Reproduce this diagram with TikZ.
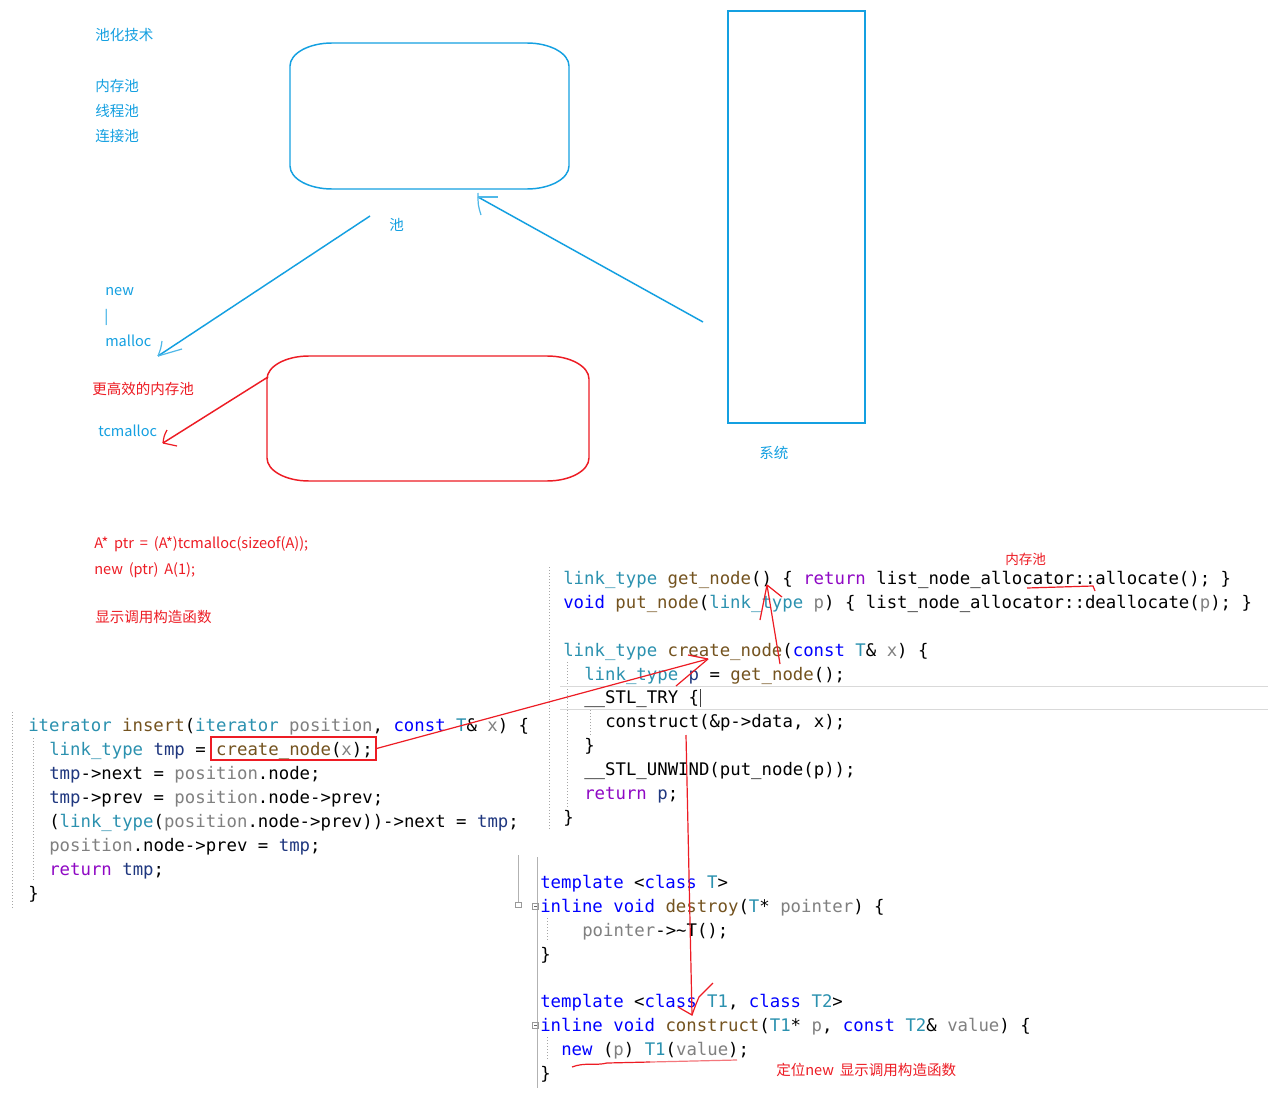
\documentclass[tikz,border=0pt]{standalone}
\usepackage{fontspec}
\newfontfamily\cjk{Noto Sans CJK SC}[WordSpace=1.8]
\newfontfamily\codefont{DejaVu Sans Mono}
\definecolor{pblue}{RGB}{20,160,225}
\definecolor{pred}{RGB}{237,28,36}
\definecolor{ctyc}{RGB}{43,145,175}
\definecolor{cfnc}{RGB}{116,83,31}
\definecolor{ckwc}{RGB}{0,0,255}
\definecolor{cpac}{RGB}{128,128,128}
\definecolor{cctc}{RGB}{143,8,196}
\definecolor{cloc}{RGB}{31,55,127}
\newcommand\tkTy[1]{\textcolor{ctyc}{#1}}
\newcommand\tkFn[1]{\textcolor{cfnc}{#1}}
\newcommand\tkKw[1]{\textcolor{ckwc}{#1}}
\newcommand\tkPa[1]{\textcolor{cpac}{#1}}
\newcommand\tkCt[1]{\textcolor{cctc}{#1}}
\newcommand\tkLo[1]{\textcolor{cloc}{#1}}
\begin{document}
\begin{tikzpicture}[x=0.75pt,y=-0.75pt,
  lbl/.style={inner sep=0pt, anchor=base west, font=\cjk\fontsize{10.9}{13}\selectfont},
  blbl/.style={lbl, text=pblue},
  rlbl/.style={lbl, text=pred},
  code/.style={inner sep=0pt, anchor=base west, font=\codefont\fontsize{13}{15}\selectfont},
  bpen/.style={draw=pblue, line width=1.1pt},
  rpen/.style={draw=pred, line width=1.1pt},
  barbb/.style={draw=pblue!75, line width=0.9pt},
  barbr/.style={draw=pred, line width=0.9pt},
  guide/.style={draw=black!35, line width=0.5pt, dash pattern=on 0.75pt off 1.5pt},
  edline/.style={draw=black!15, line width=0.75pt}]
\useasboundingbox (0,0) rectangle (1281,1095);
\fill[white] (0,0) rectangle (1281,1095);

% ---------- top-left labels ----------
\node[blbl] (t0) at (95,41) {池化技术};
\node[blbl] (t1) at (95,92) {内存池};
\node[blbl] (t2) at (95,117) {线程池};
\node[blbl] (t3) at (95,142) {连接池};

% ---------- pool box (blue) ----------
\draw[bpen] (332,43) -- (527,43) .. controls (550,43) and (569,53.3) .. (569,66) -- (569,166)
  .. controls (569,178.7) and (550,189) .. (527,189) -- (332,189)
  .. controls (309,189) and (290,178.7) .. (290,166) -- (290,66)
  .. controls (290,53.3) and (309,43) .. (332,43) -- cycle;
\coordinate (poolS) at (478,197);
\node[blbl] (pool) at (389,230) {池};

% ---------- system rectangle ----------
\node[draw=pblue, line width=1.3pt, inner sep=0pt, minimum width=102.75pt, minimum height=309pt] (sys) at (796.5,217) {};
\node[blbl] (syslbl) at (759,458) {系统};
\coordinate (sysW) at (703,322);

% ---------- blue arrows ----------
\coordinate (b1s) at (370,216);
\coordinate (b1t) at (158,356);
\draw[bpen] (b1s) -- (b1t);
\draw[barbb] (b1t) .. controls (161,348) .. (162,341);
\draw[barbb] (b1t) -- (182,349);
\draw[bpen] (sysW) -- (poolS);
\draw[barbb] (478,193) .. controls (478,205) .. (481,215);
\draw[barbb] (poolS) .. controls (483,197) .. (498,197);

% ---------- new | malloc ----------
\node[blbl] (new) at (105,295) {new};
\node[blbl] (bar) at (104,321) {|};
\node[blbl] (malloc) at (105,346) {malloc};
\node[rlbl] (eff) at (92,394) {更高效的内存池};
\node[blbl] (tcm) at (98,436) {tcmalloc};

% ---------- red box ----------
\draw[rpen] (309,356) -- (547,356) .. controls (570.2,356) and (589,366.3) .. (589,379) -- (589,458)
  .. controls (589,470.7) and (570.2,481) .. (547,481) -- (309,481)
  .. controls (285.8,481) and (267,470.7) .. (267,458) -- (267,379)
  .. controls (267,366.3) and (285.8,356) .. (309,356) -- cycle;
\coordinate (rbW) at (268,377);
\coordinate (r1t) at (163,443);
\draw[rpen] (rbW) -- (r1t);
\draw[barbr] (r1t) .. controls (164,436) .. (167,430);
\draw[barbr] (r1t) -- (177,446);

% ---------- red notes ----------
\node[rlbl] (n1) at (94,548) {A* ptr = (A*)tcmalloc(sizeof(A));};
\node[rlbl] (n2) at (94,574) {new (ptr) A(1);};
\node[rlbl] (n3) at (95,622) {显示调用构造函数};
\node[rlbl, font=\cjk\fontsize{10.2}{12}\selectfont] (n4) at (1005,564) {内存池};
\node[rlbl] (n5) at (776,1075) {定位new 显示调用构造函数};

% ---------- editor decorations ----------
\draw[guide] (549,567) -- (549,830);
\draw[guide] (567,662) -- (567,808);
\draw[guide] (590,710) -- (590,736);
\draw[guide] (12,712) -- (12,908);
\draw[guide] (33,738) -- (33,880);
\draw[guide] (547,918) -- (547,942);
\draw[guide] (547,1037) -- (547,1061);
\draw[draw=black!30, line width=0.5pt] (537,857) -- (537,1088);
\draw[draw=black!40, line width=0.4pt] (532.5,903) rectangle (538.5,909);
\draw[draw=black!60, line width=0.4pt] (534,906) -- (537,906);
\draw[draw=black!40, line width=0.4pt] (532.5,1022) rectangle (538.5,1028);
\draw[draw=black!60, line width=0.4pt] (534,1025) -- (537,1025);
\draw[draw=black!30, line width=0.5pt] (518,855) -- (518,902);
\draw[draw=black!40, line width=0.4pt] (515.5,902) rectangle (521,907);
\draw[edline] (560,686) -- (1268,686);
\draw[edline] (560,709) -- (1268,709);
\draw[draw=black!75, line width=0.6pt] (700,689) -- (700,707);

% ---------- code block A ----------
\node[code] (a1) at (563,584) {\tkTy{link\_type} \tkFn{get\_node}() \{ \tkCt{return} list\_node\_allocator::allocate(); \}};
\node[code] (a2) at (563,608) {\tkKw{void} \tkFn{put\_node}(\tkTy{link\_type} \tkPa{p}) \{ list\_node\_allocator::deallocate(\tkPa{p}); \}};
\node[code] (a3) at (563,656) {\tkTy{link\_type} \tkFn{create\_node}(\tkKw{const} \tkTy{T}\& \tkPa{x}) \{};
\node[code] (a4) at (584,680) {\tkTy{link\_type} \tkLo{p} = \tkFn{get\_node}();};
\node[code] (a5) at (584,703) {\_\_STL\_TRY \{};
\node[code] (a6) at (605,727) {construct(\&p->data, x);};
\node[code] (a7) at (584,751) {\}};
\node[code] (a8) at (584,775) {\_\_STL\_UNWIND(put\_node(p));};
\node[code] (a9) at (584,799) {\tkCt{return} \tkLo{p};};
\node[code] (a10) at (563,823) {\}};

% ---------- code block B ----------
\node[code] (b1) at (28,731) {\tkTy{iterator} \tkFn{insert}(\tkTy{iterator} \tkPa{position}, \tkKw{const} \tkTy{T}\& \tkPa{x}) \{};
\node[code] (b2) at (49,755) {\tkTy{link\_type} \tkLo{tmp} = \tkFn{create\_node}(\tkPa{x});};
\node[code] (b3) at (49,779) {\tkLo{tmp}->next = \tkPa{position}.node;};
\node[code] (b4) at (49,803) {\tkLo{tmp}->prev = \tkPa{position}.node->prev;};
\node[code] (b5) at (49,827) {(\tkTy{link\_type}(\tkPa{position}.node->prev))->next = \tkLo{tmp};};
\node[code] (b6) at (49,851) {\tkPa{position}.node->prev = \tkLo{tmp};};
\node[code] (b7) at (49,875) {\tkCt{return} \tkLo{tmp};};
\node[code] (b8) at (28,899) {\}};

% ---------- code block C ----------
\node[code] (c1) at (540,888) {\tkKw{template} <\tkKw{class} \tkTy{T}>};
\node[code] (c2) at (540,912) {\tkKw{inline} \tkKw{void} \tkFn{destroy}(\tkTy{T}* \tkPa{pointer}) \{};
\node[code] (c3) at (582,936) {\tkPa{pointer}->\textasciitilde T();};
\node[code] (c4) at (540,960) {\}};
\node[code] (c5) at (540,1007) {\tkKw{template} <\tkKw{class} \tkTy{T1}, \tkKw{class} \tkTy{T2}>};
\node[code] (c6) at (540,1031) {\tkKw{inline} \tkKw{void} \tkFn{construct}(\tkTy{T1}* \tkPa{p}, \tkKw{const} \tkTy{T2}\& \tkPa{value}) \{};
\node[code] (c7) at (561,1055) {\tkKw{new} (\tkPa{p}) \tkTy{T1}(\tkPa{value});};
\node[code] (c8) at (540,1079) {\}};

% ---------- red annotations on code ----------
\node[draw=pred, line width=0.9pt, inner sep=0pt, minimum width=123.75pt, minimum height=17.25pt] (cnbox) at (293.5,748.5) {};
\coordinate (cnT) at (708,659);
\draw[rpen, line width=0.9pt] (cnbox.east) -- (cnT);
\draw[barbr] (cnT) -- (688,655);
\draw[barbr] (cnT) -- (676,686);
\coordinate (gnS) at (780,664);
\coordinate (gnT) at (767,585);
\draw[rpen, line width=0.9pt] (gnS) -- (gnT);
\draw[barbr] (gnT) -- (782,597);
\draw[barbr] (gnT) -- (760,620);
\draw[barbr] (1027,588) -- (1093,586) -- (1095,591);
\coordinate (csS) at (686,735);
\coordinate (csT) at (692,1015);
\draw[rpen, line width=0.9pt] (csS) -- (csT);
\draw[barbr] (678,1007) -- (csT) .. controls (696,1004) .. (699,997) -- (713,983);
\draw[barbr] (572,1067) .. controls (585,1062) and (595,1066) .. (607,1063) -- (650,1062);
\draw[draw=pred!60, line width=0.9pt] (650,1062) -- (737,1060);
\end{tikzpicture}
\end{document}
